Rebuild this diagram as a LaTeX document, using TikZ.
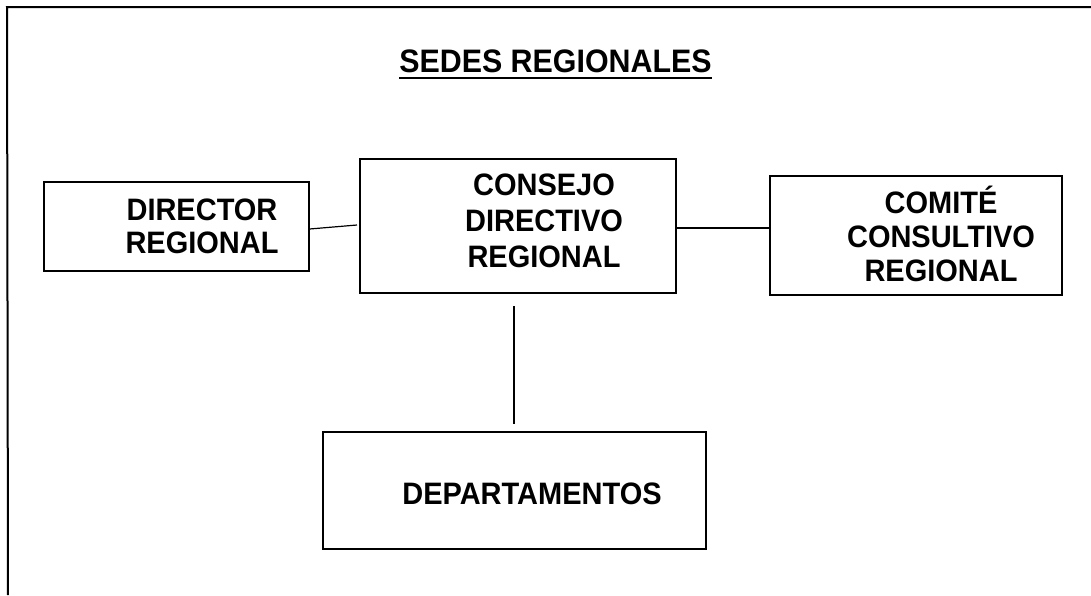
\documentclass[tikz,border=0pt]{standalone}
\usepackage{fontspec}
\setmainfont{Liberation Sans}
\newfontfamily\orgfont[FakeStretch=0.935]{Liberation Sans}
\usetikzlibrary{positioning}
\tikzset{
    box/.style={draw, line width=1.2pt, inner sep=0pt},
    boxtext/.style={font=\orgfont\bfseries\fontsize{31}{34}\selectfont, align=center, inner sep=0pt},
    link/.style={line width=1.2pt}
}

\begin{document}
\begin{tikzpicture}[x=1pt,y=-1pt]
\useasboundingbox (0,0) rectangle (1091,595);
\tikzstyle{frame}=[line width=2pt]

% page frame, top and left only
\coordinate (ftop) at (7,7);
\coordinate (fright) at (1091,7);
\coordinate (fbottom) at (8,595);
\draw[frame] (fbottom) -- (ftop) -- (fright);

\node[boxtext, font=\orgfont\bfseries\fontsize{32.5}{34}\selectfont, anchor=base] (title) at (555.5,72) {SEDES REGIONALES};
\draw[line width=2.2pt] ([yshift=-6pt]title.base west) -- ([yshift=-6pt]title.base east);

\node[box, minimum width=265pt, minimum height=89pt] (dir) at (176.5,226.5) {};
\node[boxtext, font=\orgfont\bfseries\fontsize{31}{33}\selectfont] (dirtxt) at (202,226.5) {DIRECTOR\\REGIONAL};

\node[box, minimum width=316pt, minimum height=134pt] (cdr) at (518,226) {};
\node[boxtext, font=\orgfont\bfseries\fontsize{31}{36}\selectfont] (cdrtxt) at (544,220.5) {CONSEJO\\DIRECTIVO\\REGIONAL};

\node[box, minimum width=292pt, minimum height=119pt] (cmt) at (916,235.5) {};
\node[boxtext] (cmttxt) at (941,234) {COMIT\'E\\CONSULTIVO\\REGIONAL};

\node[box, minimum width=383pt, minimum height=117pt] (dep) at (514.5,490.5) {};
\node[boxtext] (deptxt) at (532,493.5) {DEPARTAMENTOS};

\coordinate (dirend) at (357,225);
\coordinate (vtop) at (514,306);
\coordinate (vbot) at (514,424);

\draw[link] ([yshift=-2.5pt]dir.east) -- (dirend);
\draw[link] ([yshift=-2pt]cdr.east) -- ([yshift=-2pt]cdr.east -| cmt.west);
\draw[link] (vtop) -- (vbot);
\end{tikzpicture}
\end{document}
